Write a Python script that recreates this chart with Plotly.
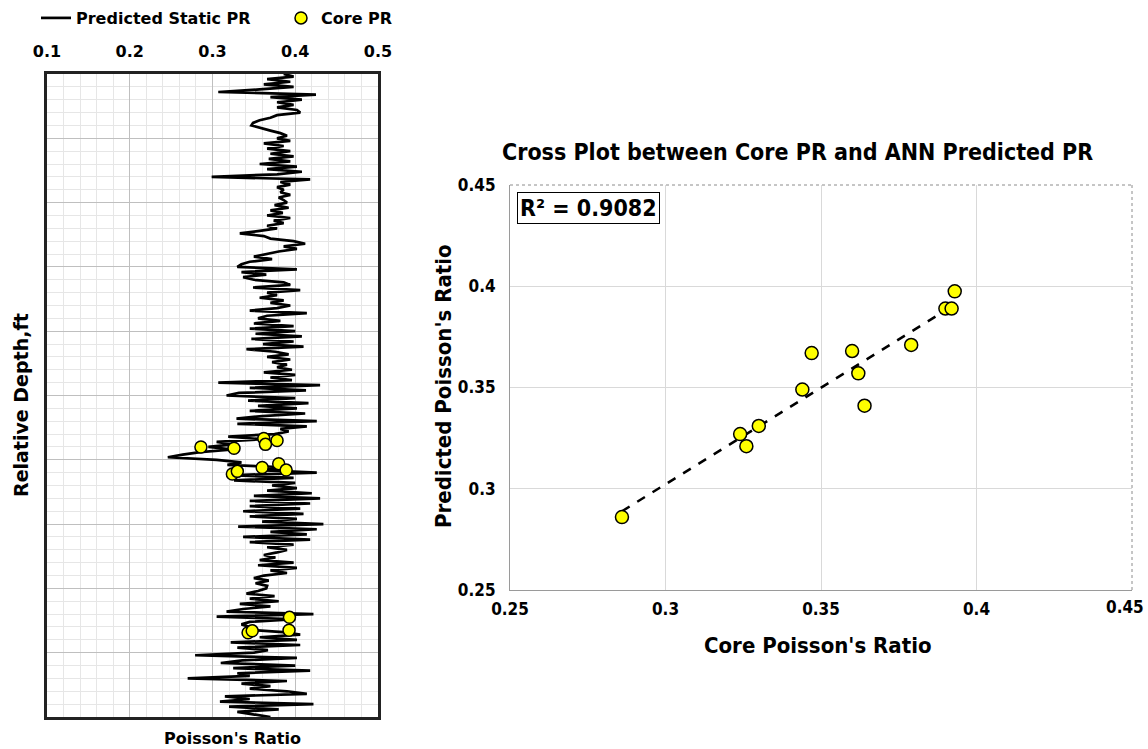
import plotly.graph_objects as go
import numpy as np

W, H = 1148, 749
def px(x): return x / W
def py(y): return 1 - y / H

# ---------------- Data ----------------
depth_step = 4  # relative depth sampling (ft)
pr_seg1 = [0.386,0.398,0.366,0.394,0.362,0.398,0.357,0.307,0.425,0.370,0.408,0.378,0.398,0.378,0.402,0.406,0.378,0.370,0.357,0.349,0.347,0.357,0.370,0.382,0.390]
pr_seg2 = [0.378,0.394,0.362,0.386,0.366,0.394,0.370,0.398,0.368,0.394,0.357,0.402,0.366,0.408,0.378,0.299,0.418,0.382,0.394,0.378,0.386,0.382,0.394,0.380,0.386]
pr_seg3 = [0.390,0.375,0.392,0.370,0.385,0.366,0.394,0.374,0.386,0.366,0.378,0.357,0.333,0.362,0.370,0.398,0.412,0.386,0.402,0.380,0.366,0.350,0.372,0.345,0.335]
pr_seg4 = [0.330,0.402,0.335,0.365,0.337,0.350,0.386,0.394,0.349,0.406,0.366,0.378,0.357,0.386,0.370,0.394,0.378,0.345,0.414,0.366,0.355,0.382,0.350,0.398,0.345]
pr_seg5 = [0.400,0.352,0.408,0.347,0.398,0.361,0.410,0.341,0.376,0.392,0.366,0.394,0.372,0.390,0.378,0.396,0.362,0.400,0.370,0.396,0.307,0.430,0.345,0.413,0.332]
pr_seg6 = [0.317,0.400,0.343,0.416,0.355,0.402,0.345,0.412,0.360,0.329,0.426,0.330,0.414,0.382,0.392,0.375,0.319,0.360,0.305,0.325,0.295,0.325,0.285,0.264,0.246]
pr_seg7 = [0.305,0.335,0.318,0.395,0.357,0.426,0.322,0.398,0.326,0.400,0.372,0.402,0.366,0.420,0.350,0.430,0.345,0.418,0.345,0.406,0.337,0.410,0.345,0.402,0.360]
pr_seg8 = [0.434,0.331,0.426,0.370,0.414,0.337,0.418,0.345,0.398,0.366,0.390,0.378,0.362,0.376,0.357,0.398,0.355,0.402,0.370,0.390,0.362,0.350,0.368,0.352,0.366]
pr_seg9 = [0.365,0.355,0.341,0.375,0.345,0.380,0.333,0.370,0.337,0.317,0.422,0.305,0.400,0.345,0.335,0.345,0.340,0.385,0.406,0.357,0.402,0.322,0.406,0.330,0.367]
pr_seg10 = [0.350,0.279,0.402,0.336,0.310,0.400,0.325,0.418,0.330,0.345,0.270,0.390,0.335,0.370,0.345,0.390,0.414,0.315,0.345,0.309,0.422,0.320,0.380,0.330,0.350,0.370]

predicted_pr = (pr_seg1 + pr_seg2 + pr_seg3 + pr_seg4 + pr_seg5 +
                pr_seg6 + pr_seg7 + pr_seg8 + pr_seg9 + pr_seg10)
log_depth = [i * depth_step for i in range(len(predicted_pr))]

core_depth = [580, 582, 567, 576, 570, 622, 618, 612, 606, 616, 845, 869, 866, 865]
core_pr_log = [0.286, 0.326, 0.362, 0.364, 0.378, 0.324, 0.330, 0.360, 0.380, 0.389, 0.393, 0.343, 0.348, 0.3925]

core_pr = [0.286, 0.324, 0.326, 0.330, 0.344, 0.347, 0.360, 0.362, 0.364, 0.379, 0.390, 0.392, 0.393]
ann_pr = [0.286, 0.327, 0.321, 0.331, 0.349, 0.367, 0.368, 0.357, 0.341, 0.371, 0.389, 0.389, 0.3975]

left_ticks = [0.1, 0.2, 0.3, 0.4, 0.5]
right_ticks = [0.25, 0.3, 0.35, 0.4, 0.45]
right_labels = ["0.25", "0.3", "0.35", "0.4", "0.45"]
r2_text = "R² = 0.9082"

# ---------------- Figure ----------------
LF = "DejaVu Sans"
RF = "DejaVu Sans Condensed, Liberation Sans Narrow, DejaVu Sans"
fig = go.Figure()

fig.add_trace(go.Scatter(
    x=predicted_pr, y=log_depth, mode="lines", name="Predicted Static PR",
    line=dict(color="black", width=2.7), xaxis="x", yaxis="y"))
fig.add_trace(go.Scatter(
    x=core_pr_log, y=core_depth, mode="markers", name="Core PR",
    marker=dict(color="#ffff00", size=12, line=dict(color="black", width=1.5)),
    xaxis="x", yaxis="y"))

# trend line from regression
slope, intercept = np.polyfit(core_pr, ann_pr, 1)
tx = [min(core_pr), max(core_pr)]
ty = [slope * v + intercept for v in tx]
fig.add_trace(go.Scatter(
    x=tx, y=ty, mode="lines", showlegend=False,
    line=dict(color="black", width=2.5, dash="dash"), xaxis="x2", yaxis="y2"))
fig.add_trace(go.Scatter(
    x=core_pr, y=ann_pr, mode="markers", showlegend=False,
    marker=dict(color="#ffff00", size=13, line=dict(color="black", width=1.5)),
    xaxis="x2", yaxis="y2"))

L = dict(x0=47, x1=378, y0=74, y1=717)
R = dict(x0=510, x1=1132, y0=185, y1=590)

fig.update_layout(
    width=W, height=H, margin=dict(l=0, r=0, t=0, b=0, autoexpand=False),
    paper_bgcolor="white", plot_bgcolor="white",
    font=dict(family=LF, color="black"),
    showlegend=True,
    legend=dict(orientation="h", x=px(36), y=py(1), xanchor="left", yanchor="top",
                font=dict(family=LF, size=16, weight="bold"), bgcolor="rgba(0,0,0,0)",
                itemwidth=30, tracegroupgap=0, entrywidth=200, entrywidthmode="pixels"),
    xaxis=dict(domain=[px(L["x0"]), px(L["x1"])], range=[0.1, 0.5], side="top",
               tickvals=left_ticks, ticktext=[f"{v:.1f}" for v in left_ticks],
               tickfont=dict(family=LF, size=16, weight="bold"),
               ticks="", ticklabelstandoff=8, automargin=False,
               showgrid=True, gridcolor="#bfbfbf", gridwidth=1.2,
               minor=dict(dtick=0.02, showgrid=True, gridcolor="#e6e6e6", gridwidth=1),
               showline=True, linecolor="#222", linewidth=2.5, mirror=True,
               zeroline=False, anchor="y"),
    yaxis=dict(domain=[py(L["y1"]), py(L["y0"])], range=[1000, 0],
               dtick=100, showticklabels=False, ticks="", automargin=False,
               showgrid=True, gridcolor="#bfbfbf", gridwidth=1.2,
               minor=dict(dtick=20, showgrid=True, gridcolor="#e6e6e6", gridwidth=1),
               showline=True, linecolor="#222", linewidth=2.5, mirror=True,
               zeroline=False, anchor="x"),
    xaxis2=dict(domain=[px(R["x0"]), px(R["x1"])], range=[0.25, 0.45],
                tickvals=right_ticks[:-1], ticktext=right_labels[:-1],
                tickfont=dict(family=RF, size=17, weight="bold"),
                ticks="", ticklabelstandoff=4, automargin=False,
                showgrid=True, gridcolor="#d9d9d9", gridwidth=1,
                showline=True, linecolor="#9a9a9a", linewidth=1,
                zeroline=False, anchor="y2"),
    yaxis2=dict(domain=[py(R["y1"]), py(R["y0"])], range=[0.25, 0.45],
                tickvals=right_ticks, ticktext=right_labels,
                tickfont=dict(family=RF, size=17, weight="bold"),
                ticks="", ticklabelstandoff=10, automargin=False,
                showgrid=True, gridcolor="#d9d9d9", gridwidth=1,
                showline=True, linecolor="#9a9a9a", linewidth=1,
                zeroline=False, anchor="x2"),
)

# dotted frame on the cross-plot (top and right)
fig.add_shape(type="line", xref="paper", yref="paper",
              x0=px(R["x0"]), x1=px(R["x1"]), y0=py(R["y0"]), y1=py(R["y0"]),
              line=dict(color="#8c8c8c", width=1, dash="dot"))
fig.add_shape(type="line", xref="paper", yref="paper",
              x0=px(R["x1"]), x1=px(R["x1"]), y0=py(R["y0"]), y1=py(R["y1"]),
              line=dict(color="#8c8c8c", width=1, dash="dot"))

annotations = [
    dict(text="Relative Depth,ft", x=px(21), y=py(405), textangle=-90,
         font=dict(family=LF, size=19, weight="bold")),
    dict(text="Poisson's Ratio", x=px(232), y=py(738),
         font=dict(family=LF, size=16, weight="bold")),
    dict(text="Cross Plot between Core PR and ANN Predicted PR", x=px(797), y=py(152),
         font=dict(family=RF, size=23, weight="bold")),
    dict(text="Predicted Poisson's Ratio", x=px(443), y=py(386), textangle=-90,
         font=dict(family=RF, size=22, weight="bold")),
    dict(text="Core Poisson's Ratio", x=px(818), y=py(645),
         font=dict(family=RF, size=22, weight="bold")),
    dict(text=r2_text, x=px(588), y=py(208),
         font=dict(family=RF, size=23, weight="bold"),
         bordercolor="black", borderwidth=1, borderpad=2, bgcolor="white"),
    # last x tick label of the cross plot (would be clipped at the page edge)
    dict(text=right_labels[-1], x=px(1146), y=py(607),
         xanchor="right", font=dict(family=RF, size=17, weight="bold")),
]
for a in annotations:
    a.setdefault("xanchor", "center")
    a.update(xref="paper", yref="paper", showarrow=False, yanchor="middle")
fig.update_layout(annotations=annotations)

fig.write_html("out.html")
